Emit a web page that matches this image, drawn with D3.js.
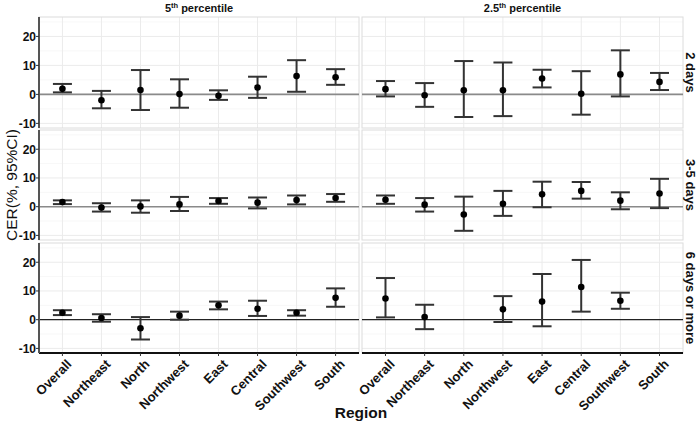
<!DOCTYPE html>
<html><head><meta charset="utf-8">
<script src="https://cdn.jsdelivr.net/npm/d3@7"></script>
<style>body{margin:0;background:#fff}svg{display:block}text{font-family:"Liberation Sans",Arial,sans-serif}</style>
</head><body><svg id="c" width="697" height="424"></svg>
<script>
const regions = ["Overall","Northeast","North","Northwest","East","Central","Southwest","South"];
const columns = ["5th","2.5th"];
const rows = ["2 days","3-5 days","6 days or more"];
const yTicks = [-10,0,10,20];

const est_5_2d = [1.9,-2.0,1.5,0.1,-0.5,2.4,6.3,5.9];
const lo_5_2d  = [0.7,-4.8,-5.4,-4.6,-1.9,-1.2,0.9,3.3];
const hi_5_2d  = [3.6,1.2,8.4,5.2,1.4,6.1,11.8,8.7];

const est_25_2d = [1.8,-0.3,1.4,1.4,5.5,0.2,6.9,4.3];
const lo_25_2d  = [-0.7,-4.3,-7.8,-7.5,2.4,-7.0,-0.7,1.5];
const hi_25_2d  = [4.6,3.9,11.5,11.0,8.5,8.0,15.2,7.4];

const est_5_35d = [1.6,-0.3,0.1,0.8,2.0,1.4,2.3,3.0];
const lo_5_35d  = [0.9,-1.7,-2.1,-1.5,1.0,-0.6,0.8,1.7];
const hi_5_35d  = [2.2,1.2,2.2,3.4,3.0,3.2,3.9,4.4];

const est_25_35d = [2.4,0.7,-2.7,1.0,4.3,5.5,2.1,4.6];
const lo_25_35d  = [1.0,-1.7,-8.4,-3.2,-0.2,2.8,-0.9,-0.5];
const hi_25_35d  = [3.9,3.0,3.5,5.5,8.7,8.6,5.0,9.7];

const est_5_6d = [2.4,0.6,-3.0,1.4,5.0,3.8,2.4,7.6];
const lo_5_6d  = [1.6,-0.7,-6.9,0.0,3.6,1.3,1.4,4.5];
const hi_5_6d  = [3.3,1.9,0.9,2.8,6.3,6.6,3.3,10.9];

const est_25_6d = [7.4,0.9,null,3.6,6.3,11.4,6.6,null];
const lo_25_6d  = [0.8,-3.3,null,-0.8,-2.3,2.8,3.8,null];
const hi_25_6d  = [14.5,5.2,null,8.2,15.9,20.8,9.4,null];

const panelData = [
  [[est_5_2d,lo_5_2d,hi_5_2d],[est_25_2d,lo_25_2d,hi_25_2d]],
  [[est_5_35d,lo_5_35d,hi_5_35d],[est_25_35d,lo_25_35d,hi_25_35d]],
  [[est_5_6d,lo_5_6d,hi_5_6d],[est_25_6d,lo_25_6d,hi_25_6d]]
];

const svg = d3.select("#c");
const colX = [[39,359],[362,683]];
const rowY = [[17,128],[130,240],[243,353]];
const yDomain = [-11.6, 26.7];

rows.forEach((rName, ri) => {
  const y = d3.scaleLinear().domain(yDomain).range([rowY[ri][1], rowY[ri][0]]);
  columns.forEach((cName, ci) => {
    const [x0,x1] = colX[ci];
    const x = d3.scalePoint().domain(regions).range([x0,x1]).padding(0.6);
    const g = svg.append("g");
    [-5,5,15,25].forEach(v => g.append("line").attr("x1",x0).attr("x2",x1).attr("y1",y(v)).attr("y2",y(v)).attr("stroke","#f2f2f2").attr("stroke-width",0.6));
    yTicks.forEach(v => g.append("line").attr("x1",x0).attr("x2",x1).attr("y1",y(v)).attr("y2",y(v)).attr("stroke","#ebebeb").attr("stroke-width",1));
    regions.forEach(r => g.append("line").attr("x1",x(r)).attr("x2",x(r)).attr("y1",rowY[ri][0]).attr("y2",rowY[ri][1]).attr("stroke","#ebebeb").attr("stroke-width",1));
    g.append("rect").attr("x",x0).attr("y",rowY[ri][0]).attr("width",x1-x0).attr("height",rowY[ri][1]-rowY[ri][0]).attr("fill","none").attr("stroke","#dcdcdc").attr("stroke-width",1);
    g.append("line").attr("x1",x0).attr("x2",x1).attr("y1",y(0)).attr("y2",y(0))
      .attr("stroke", ri===2 ? "#222" : "#8a8a8a").attr("stroke-width", ri===2 ? 1.2 : 1.6);
    const [est,lo,hi] = panelData[ri][ci];
    regions.forEach((r,i) => {
      if (est[i]===null) return;
      const cx = x(r), hw = 9.5;
      g.append("line").attr("x1",cx).attr("x2",cx).attr("y1",y(lo[i])).attr("y2",y(hi[i])).attr("stroke","#333").attr("stroke-width",2);
      g.append("line").attr("x1",cx-hw).attr("x2",cx+hw).attr("y1",y(lo[i])).attr("y2",y(lo[i])).attr("stroke","#333").attr("stroke-width",2);
      g.append("line").attr("x1",cx-hw).attr("x2",cx+hw).attr("y1",y(hi[i])).attr("y2",y(hi[i])).attr("stroke","#333").attr("stroke-width",2);
      g.append("circle").attr("cx",cx).attr("cy",y(est[i])).attr("r",3.3).attr("fill","#000");
    });
    if (ri===2) {
      g.append("line").attr("x1",x0).attr("x2",x1).attr("y1",rowY[ri][1]).attr("y2",rowY[ri][1]).attr("stroke","#111").attr("stroke-width",2);
      regions.forEach(r => {
        g.append("line").attr("x1",x(r)).attr("x2",x(r)).attr("y1",rowY[ri][1]).attr("y2",rowY[ri][1]+3).attr("stroke","#333").attr("stroke-width",1);
        g.append("text").attr("transform",`translate(${x(r)+10},${rowY[ri][1]+12}) rotate(-45)`)
          .attr("text-anchor","end").attr("font-size",13).attr("font-weight","bold").attr("fill","#111").text(r);
      });
    }
  });
  const ax = svg.append("g").attr("transform",`translate(${colX[0][0]},0)`);
  ax.append("line").attr("x1",0).attr("x2",0).attr("y1",rowY[ri][0]).attr("y2",rowY[ri][1]).attr("stroke","#555").attr("stroke-width",2);
  yTicks.forEach(v => {
    ax.append("line").attr("x1",-3).attr("x2",0).attr("y1",y(v)).attr("y2",y(v)).attr("stroke","#333");
    ax.append("text").attr("x",-3).attr("y",y(v)).attr("dy","0.36em").attr("text-anchor","end")
      .attr("font-size",12).attr("font-weight","bold").attr("fill","#111").text(v);
  });
  svg.append("text").attr("transform",`translate(686,${(rowY[ri][0]+rowY[ri][1])/2}) rotate(90)`)
    .attr("text-anchor","middle").attr("font-size",13).attr("font-weight","bold").attr("fill","#111").text(rName);
});

columns.forEach((c,ci) => {
  const t = svg.append("text").attr("x",(colX[ci][0]+colX[ci][1])/2).attr("y",12).attr("text-anchor","middle")
    .attr("font-size",11).attr("font-weight","bold").attr("fill","#111");
  t.append("tspan").text(c.replace("th",""));
  t.append("tspan").attr("font-size",7.5).attr("dy",-4).text("th");
  t.append("tspan").attr("dy",4).text(" percentile");
});

svg.append("text").attr("transform",`translate(17,185) rotate(-90)`).attr("text-anchor","middle")
  .attr("font-size",15.5).attr("fill","#111").text("CER(%, 95%CI)");
svg.append("text").attr("x",361).attr("y",418).attr("text-anchor","middle")
  .attr("font-size",15.5).attr("font-weight","bold").attr("fill","#111").text("Region");
</script></body></html>
